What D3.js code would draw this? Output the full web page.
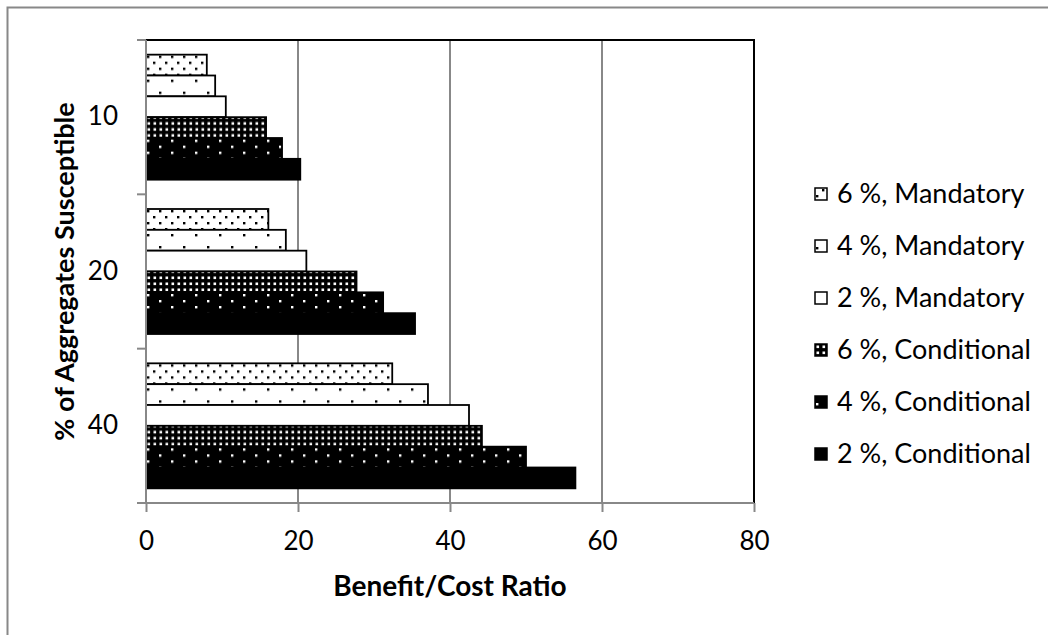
<!DOCTYPE html>
<html>
<head>
<meta charset="utf-8">
<script src="https://cdn.jsdelivr.net/npm/d3@7"></script>
<style>
    body { margin: 0; background: #fff; }
    text { font-family: Lato, "Open Sans", sans-serif; fill: #000; }
</style>
</head>
<body>
<svg id="drawing_region"></svg>
<script>
// chart values
const categories = ["10", "20", "40"];
const seriesNames = ["6 %, Mandatory", "4 %, Mandatory", "2 %, Mandatory",
                     "6 %, Conditional", "4 %, Conditional", "2 %, Conditional"];
const mandatory6 = [8.0, 16.1, 32.4];
const mandatory4 = [9.1, 18.4, 37.1];
const mandatory2 = [10.5, 21.1, 42.5];
const conditional6 = [15.8, 27.7, 44.2];
const conditional4 = [17.9, 31.2, 50.0];
const conditional2 = [20.3, 35.4, 56.5];
const xTicks = [0, 20, 40, 60, 80];

const seriesValues = [mandatory6, mandatory4, mandatory2, conditional6, conditional4, conditional2];
const fills = ["url(#p_m6)", "url(#p_m4)", "#fff", "url(#p_c6)", "url(#p_c4)", "#000"];

const data = categories.map( (c, i) => ({
    category: c,
    values: seriesNames.map( (s, j) => ({ series: s, idx: j, value: seriesValues[j][i] }) )
}));

var config = {
    parent: '#drawing_region',
    width: 1048,
    height: 635,
    margin: {top:40, right:294, bottom:132, left:146},
};

const svg = d3.select( config.parent )
    .attr('width', config.width)
    .attr('height', config.height);

// patterns (kept in user space so the dots line up like in Excel)
const defs = svg.append('defs');
function dotPattern( id, w, h, bg, fg, dots, size ) {
    const p = defs.append('pattern')
        .attr('id', id)
        .attr('patternUnits', 'userSpaceOnUse')
        .attr('width', w)
        .attr('height', h);
    p.append('rect').attr('width', w).attr('height', h).attr('fill', bg);
    dots.forEach( d => {
        p.append('rect')
            .attr('x', d[0]).attr('y', d[1])
            .attr('width', size).attr('height', size)
            .attr('fill', fg);
    });
}
dotPattern('p_m6', 12, 12, '#fff', '#000', [[1,1],[7,7]], 2.4);
dotPattern('p_m4', 24, 24, '#fff', '#000', [[1,1],[13,13]], 2.4);
dotPattern('p_c6', 6, 6, '#000', '#fff', [[1.5,1.5]], 2.6);
dotPattern('p_c4', 24, 12, '#000', '#fff', [[1,1],[13,7]], 2.4);

// outer chart frame
svg.append('rect')
    .attr('x', 7.5).attr('y', 7.5)
    .attr('width', 1060).attr('height', 660)
    .attr('fill', 'none')
    .attr('stroke', '#888')
    .attr('stroke-width', 2);

const inner_width = config.width - config.margin.left - config.margin.right;
const inner_height = config.height - config.margin.top - config.margin.bottom;

const chart = svg.append('g')
    .attr('transform', `translate(${config.margin.left}, ${config.margin.top})`);

const xscale = d3.scaleLinear()
    .domain([0, 80])
    .range([0, inner_width]);

const yscale = d3.scaleBand()
    .domain(categories)
    .range([0, inner_height])
    .paddingInner(0.19)
    .paddingOuter(0.095);

const yinner = d3.scaleBand()
    .domain(seriesNames)
    .range([0, yscale.bandwidth()]);

// gridlines
chart.selectAll('.grid')
    .data(xTicks.filter(t => t > 0 && t < 80))
    .enter()
    .append('line')
    .attr('x1', d => xscale(d)).attr('x2', d => xscale(d))
    .attr('y1', 0).attr('y2', inner_height)
    .attr('stroke', '#888')
    .attr('stroke-width', 2);

// bars
const groups = chart.selectAll('.cat')
    .data(data)
    .enter()
    .append('g')
    .attr('transform', d => `translate(0, ${yscale(d.category)})`);

groups.selectAll('rect')
    .data(d => d.values)
    .enter()
    .append('rect')
    .attr('x', 0)
    .attr('y', d => yinner(d.series))
    .attr('width', d => xscale(d.value))
    .attr('height', yinner.bandwidth())
    .attr('fill', d => fills[d.idx])
    .attr('stroke', '#000')
    .attr('stroke-width', 1.8);

// plot border (top, right)
chart.append('path')
    .attr('d', `M0,0 H${inner_width} V${inner_height}`)
    .attr('fill', 'none')
    .attr('stroke', '#000')
    .attr('stroke-width', 2);

// x axis
const xaxis = d3.axisBottom( xscale )
    .tickValues(xTicks)
    .tickSize(9)
    .tickPadding(20)
    .tickSizeOuter(0);

const xaxis_group = chart.append('g')
    .attr('transform', `translate(0, ${inner_height})`)
    .call( xaxis );
xaxis_group.select('.domain').attr('stroke', '#888').attr('stroke-width', 2)
    .attr('d', `M-9,0H${inner_width}`);
xaxis_group.selectAll('.tick line').attr('stroke', '#888').attr('stroke-width', 2);
xaxis_group.selectAll('.tick text')
    .style('font-family', 'Lato, sans-serif')
    .attr('font-size', 26);

// y axis
const yaxis = d3.axisLeft( yscale )
    .tickSize(0)
    .tickPadding(28)
    .tickSizeOuter(0);

const yaxis_group = chart.append('g')
    .call( yaxis );
yaxis_group.select('.domain').attr('stroke', '#888').attr('stroke-width', 2)
    .attr('d', `M0,0V${inner_height}`);
yaxis_group.selectAll('.tick text')
    .style('font-family', 'Lato, sans-serif')
    .attr('font-size', 26);

// category boundary ticks
const bounds = categories.map(c => yscale(c) - yscale.step() * yscale.paddingInner() / 2);
bounds[0] = 0;
bounds.push(inner_height);
yaxis_group.selectAll('.btick')
    .data(bounds)
    .enter()
    .append('line')
    .attr('x1', -9).attr('x2', 0)
    .attr('y1', d => d).attr('y2', d => d)
    .attr('stroke', '#888')
    .attr('stroke-width', 2);

// axis titles
svg.append('text')
    .attr('x', config.margin.left + inner_width / 2)
    .attr('y', 596)
    .attr('text-anchor', 'middle')
    .attr('font-size', 28)
    .attr('font-weight', 'bold')
    .text('Benefit/Cost Ratio');

svg.append('text')
    .attr('transform', `translate(74, ${config.margin.top + inner_height / 2}) rotate(-90)`)
    .attr('text-anchor', 'middle')
    .attr('font-size', 27)
    .attr('font-weight', 'bold')
    .text('% of Aggregates Susceptible');

// legend
const legend = svg.append('g')
    .attr('transform', 'translate(815, 194)');

const items = legend.selectAll('.item')
    .data(seriesNames)
    .enter()
    .append('g')
    .attr('transform', (d, i) => `translate(0, ${i * 52})`);

items.append('rect')
    .attr('x', 0).attr('y', -6)
    .attr('width', 12).attr('height', 12)
    .attr('fill', (d, i) => fills[i])
    .attr('stroke', '#000')
    .attr('stroke-width', 1.5);

items.append('text')
    .attr('x', 22)
    .attr('y', 0)
    .attr('dy', '0.35em')
    .attr('font-size', 27)
    .text(d => d);
</script>
</body>
</html>
